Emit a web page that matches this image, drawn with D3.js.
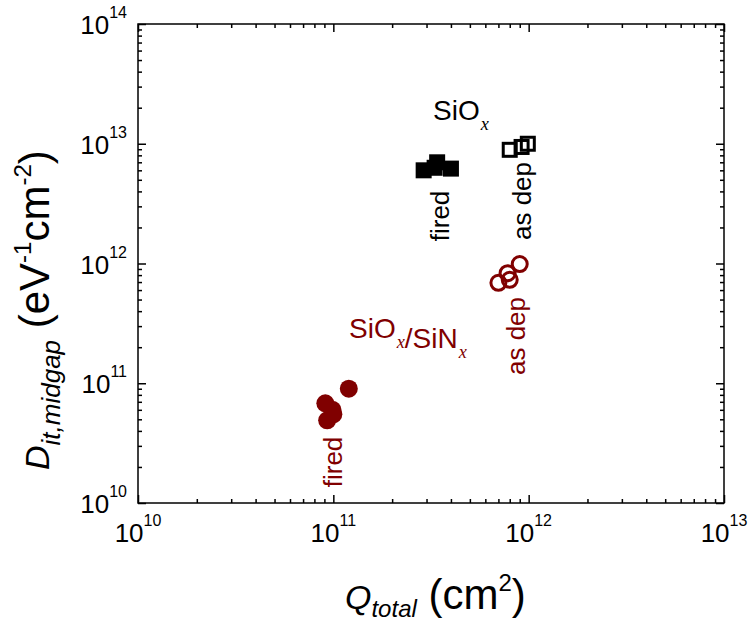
<!DOCTYPE html>
<html>
<head>
<meta charset="utf-8">
<script src="https://cdn.jsdelivr.net/npm/d3@7"></script>
<style>
  html, body { margin: 0; padding: 0; background: #fff; }
  svg { display: block; font-family: "Liberation Sans", Arial, sans-serif; }
</style>
</head>
<body>
<svg id="chart" width="755" height="621"></svg>
<script>
// Interface trap density vs. total charge for SiOx and SiOx/SiNx stacks
const sioxFiredQ   = [2.9e11, 3.3e11, 3.4e11, 4.0e11];
const sioxFiredD   = [6.0e12, 6.3e12, 7.0e12, 6.2e12];
const sioxAsDepQ   = [8.0e11, 9.2e11, 9.9e11];
const sioxAsDepD   = [8.9e12, 9.4e12, 1.0e13];
const stackAsDepQ  = [7.0e11, 8.0e11, 7.8e11, 9.0e11];
const stackAsDepD  = [6.9e11, 7.3e11, 8.3e11, 9.9e11];
const stackFiredQ  = [9.1e10, 9.9e10, 9.3e10, 1.0e11, 1.2e11];
const stackFiredD  = [6.8e10, 6.0e10, 4.9e10, 5.5e10, 9.0e10];

const xDecades = [10, 11, 12, 13];
const yDecades = [10, 11, 12, 13, 14];

const darkRed = "#800000";
const margin = { left: 138, right: 31, top: 24, bottom: 118 };
const W = 755, H = 621;
const svg = d3.select("#chart");

const x = d3.scaleLog().domain([1e10, 1e13]).range([margin.left, W - margin.right]);
const y = d3.scaleLog().domain([1e10, 1e14]).range([H - margin.bottom, margin.top]);
const x0 = x.range()[0], x1 = x.range()[1];
const y0 = y.range()[0], y1 = y.range()[1];

function logTicks(decs) {
  const out = [];
  for (let i = 0; i < decs.length; i++) {
    const d = decs[i];
    out.push({ v: Math.pow(10, d), major: true, exp: d });
    if (i < decs.length - 1) {
      for (let k = 2; k <= 9; k++) out.push({ v: k * Math.pow(10, d), major: false });
    }
  }
  return out;
}
const xt = logTicks(xDecades);
const yt = logTicks(yDecades);
const majLen = 8, minLen = 4;

// Tick marks on all four sides, pointing inward
function tickAxis(axisFn, scale, ticks, transform, sign) {
  const g = svg.append("g").attr("transform", transform)
    .call(axisFn(scale).tickValues(ticks.map(t => t.v)).tickFormat("").tickSizeOuter(0));
  g.select(".domain").remove();
  g.selectAll(".tick line").each(function(d, i) {
    const len = ticks[i].major ? majLen : minLen;
    const el = d3.select(this).attr("stroke", "#000").attr("stroke-width", 1.5);
    if (axisFn === d3.axisBottom || axisFn === d3.axisTop) el.attr("y2", sign * len);
    else el.attr("x2", sign * len);
  });
  return g;
}
tickAxis(d3.axisBottom, x, xt, `translate(0,${y0})`, -1);
tickAxis(d3.axisTop, x, xt, `translate(0,${y1})`, 1);
tickAxis(d3.axisLeft, y, yt, `translate(${x0},0)`, 1);
tickAxis(d3.axisRight, y, yt, `translate(${x1},0)`, -1);

// Frame
svg.append("rect")
  .attr("x", x0).attr("y", y1).attr("width", x1 - x0).attr("height", y0 - y1)
  .attr("fill", "none").attr("stroke", "#000").attr("stroke-width", 1.5);

// Power-of-ten labels
function powLabel(sel, exp) {
  sel.append("tspan").text("10");
  sel.append("tspan").attr("font-size", 16).attr("dy", -16).text(exp);
}
xt.filter(t => t.major).forEach(t => {
  svg.append("text")
    .attr("x", x(t.v)).attr("y", y0 + 39)
    .attr("text-anchor", "middle").attr("font-size", 26).attr("fill", "#000")
    .call(powLabel, t.exp);
});
yt.filter(t => t.major).forEach(t => {
  svg.append("text")
    .attr("x", x0 - 11).attr("y", y(t.v) + 10)
    .attr("text-anchor", "end").attr("font-size", 26).attr("fill", "#000")
    .call(powLabel, t.exp);
});

// Axis titles
const xTitle = svg.append("text")
  .attr("x", 345).attr("y", 609)
  .attr("text-anchor", "start").attr("font-size", 42).attr("fill", "#000");
xTitle.append("tspan").attr("font-style", "italic").attr("font-size", 34).text("Q");
xTitle.append("tspan").attr("font-style", "italic").attr("font-size", 24).attr("dy", 8).text("total");
xTitle.append("tspan").attr("dy", -8).text(" (cm");
xTitle.append("tspan").attr("font-size", 24).attr("dy", -18).text("2");
xTitle.append("tspan").attr("dy", 18).text(")");

const yTitle = svg.append("text")
  .attr("transform", `translate(49,470) rotate(-90)`)
  .attr("text-anchor", "start").attr("font-size", 42).attr("fill", "#000");
yTitle.append("tspan").attr("font-style", "italic").attr("font-size", 34).text("D");
yTitle.append("tspan").attr("font-style", "italic").attr("font-size", 26).attr("dy", 11).text("it,midgap");
yTitle.append("tspan").attr("dy", -11).text(" (eV");
yTitle.append("tspan").attr("font-size", 24).attr("dy", -18).text("-1");
yTitle.append("tspan").attr("dy", 18).text("cm");
yTitle.append("tspan").attr("font-size", 24).attr("dy", -18).text("-2");
yTitle.append("tspan").attr("dy", 18).text(")");

// Data markers
const plot = svg.append("g");
const pts = (qs, ds) => qs.map((q, i) => ({ q, d: ds[i] }));
const sq = 13;

plot.selectAll(".sf").data(pts(sioxFiredQ, sioxFiredD)).join("rect")
  .attr("x", p => x(p.q) - (sq + 3) / 2).attr("y", p => y(p.d) - (sq + 3) / 2)
  .attr("width", sq + 3).attr("height", sq + 3).attr("fill", "#000");

plot.selectAll(".sa").data(pts(sioxAsDepQ, sioxAsDepD)).join("rect")
  .attr("x", p => x(p.q) - sq / 2).attr("y", p => y(p.d) - sq / 2)
  .attr("width", sq).attr("height", sq)
  .attr("fill", "none").attr("stroke", "#000").attr("stroke-width", 3);

plot.selectAll(".ca").data(pts(stackAsDepQ, stackAsDepD)).join("circle")
  .attr("cx", p => x(p.q)).attr("cy", p => y(p.d)).attr("r", 7.5)
  .attr("fill", "none").attr("stroke", darkRed).attr("stroke-width", 3);

plot.selectAll(".cf").data(pts(stackFiredQ, stackFiredD)).join("circle")
  .attr("cx", p => x(p.q)).attr("cy", p => y(p.d)).attr("r", 9)
  .attr("fill", darkRed);

// Annotations
function chem(g, parts, size) {
  parts.forEach(([txt, sub]) => {
    g.append("tspan").text(txt);
    if (sub) {
      g.append("tspan").attr("font-family", "Liberation Serif, Times New Roman, serif")
        .attr("font-style", "italic").attr("font-size", size * 0.65).attr("dx", 1).attr("dy", 10).text(sub);
      g.append("tspan").attr("font-size", size).attr("dy", -10).text("");
    }
  });
}
const s1 = svg.append("text").attr("x", 433).attr("y", 120).attr("font-size", 28).attr("fill", "#000");
chem(s1, [["SiO", "x"]], 28);
const s2 = svg.append("text").attr("x", 349).attr("y", 338).attr("font-size", 28).attr("fill", darkRed);
chem(s2, [["SiO", "x"], ["/SiN", "x"]], 28);

function vlabel(cx, cy, txt, color) {
  svg.append("text")
    .attr("transform", `translate(${cx},${cy}) rotate(-90)`)
    .attr("text-anchor", "middle").attr("dominant-baseline", "central")
    .attr("font-size", 26).attr("fill", color).text(txt);
}
vlabel(440, 216, "fired", "#000");
vlabel(522, 201, "as dep", "#000");
vlabel(516, 336, "as dep", darkRed);
vlabel(333, 462, "fired", darkRed);
</script>
</body>
</html>
